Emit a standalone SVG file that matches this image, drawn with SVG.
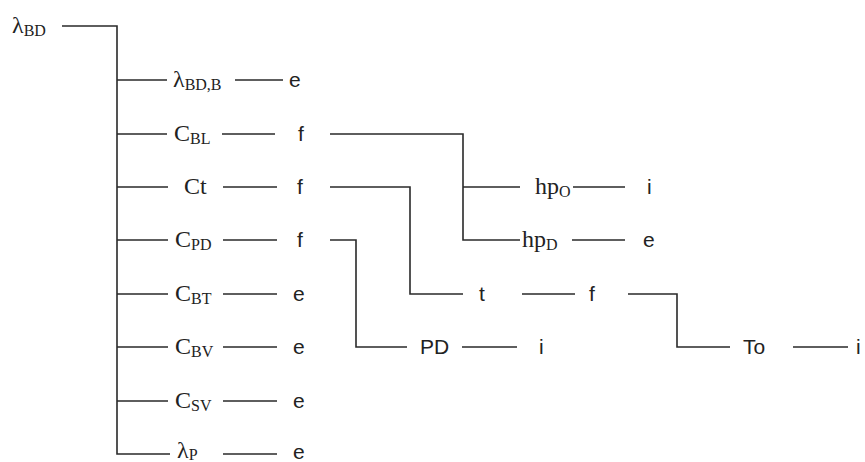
<svg xmlns="http://www.w3.org/2000/svg" width="865" height="462" viewBox="0 0 865 462">
<style>
.c{fill:none;stroke:#2a2a2a;stroke-width:1.6}
.s{font-family:"Liberation Serif","Times New Roman",serif;font-size:24px;fill:#222}
.sub{font-size:16px}
.a{font-family:"Liberation Sans",Arial,sans-serif;font-size:21px;fill:#222}
</style>
<rect width="865" height="462" fill="#fff"/>
<g id="connectors">
<path class="c" d="M62 26H117V454H170"/>
<path class="c" d="M117 80H167M235 80H283"/>
<path class="c" d="M117 134H167M222 134H275M330 134H463V240H520M463 187H520M573 187H625M572 240H625"/>
<path class="c" d="M117 187H168M223 187H277M330 187H410V294H463M522 294H575M628 294H677V347H730M793 347H848"/>
<path class="c" d="M117 240H168M223 240H277M330 240H356V347H407M462 347H517"/>
<path class="c" d="M117 294H168M223 294H277"/>
<path class="c" d="M117 347H168M223 347H277"/>
<path class="c" d="M117 401H168M223 401H277"/>
<path class="c" d="M223 454H277"/>
</g>
<g id="n-lbd"><text class="s" x="12" y="33">λ<tspan class="sub" dy="3">BD</tspan></text></g>
<g id="n-lbdb"><text class="s" x="173" y="87">λ<tspan class="sub" dy="3">BD,B</tspan></text></g>
<g id="n-e1"><text class="a" x="289" y="87">e</text></g>
<g id="n-cbl"><text class="s" x="174" y="141">C<tspan class="sub" dy="3">BL</tspan></text></g>
<g id="n-f1"><text class="a" x="298" y="141">f</text></g>
<g id="n-ct"><text class="s" x="184" y="194">Ct</text></g>
<g id="n-f2"><text class="a" x="297" y="194">f</text></g>
<g id="n-cpd"><text class="s" x="175" y="247">C<tspan class="sub" dy="3">PD</tspan></text></g>
<g id="n-f3"><text class="a" x="297" y="247">f</text></g>
<g id="n-cbt"><text class="s" x="175" y="301">C<tspan class="sub" dy="3">BT</tspan></text></g>
<g id="n-e2"><text class="a" x="293" y="301">e</text></g>
<g id="n-cbv"><text class="s" x="175" y="354">C<tspan class="sub" dy="3">BV</tspan></text></g>
<g id="n-e3"><text class="a" x="293" y="354">e</text></g>
<g id="n-csv"><text class="s" x="175" y="408">C<tspan class="sub" dy="3">SV</tspan></text></g>
<g id="n-e4"><text class="a" x="293" y="408">e</text></g>
<g id="n-lp"><text class="s" x="177" y="458">λ<tspan class="sub" dy="2">P</tspan></text></g>
<g id="n-e5"><text class="a" x="293" y="459">e</text></g>
<g id="n-hpo"><text class="s" x="535" y="194">hp<tspan class="sub" dy="3">O</tspan></text></g>
<g id="n-i1"><text class="a" x="647" y="194">i</text></g>
<g id="n-hpd"><text class="s" x="522" y="247">hp<tspan class="sub" dy="3">D</tspan></text></g>
<g id="n-e6"><text class="a" x="643" y="247">e</text></g>
<g id="n-t"><text class="a" x="479" y="301">t</text></g>
<g id="n-f4"><text class="a" x="589" y="301">f</text></g>
<g id="n-to"><text class="a" x="743" y="354">To</text></g>
<g id="n-i2"><text class="a" x="856" y="354">i</text></g>
<g id="n-pd"><text class="a" x="420" y="354">PD</text></g>
<g id="n-i3"><text class="a" x="539" y="354">i</text></g>
</svg>
